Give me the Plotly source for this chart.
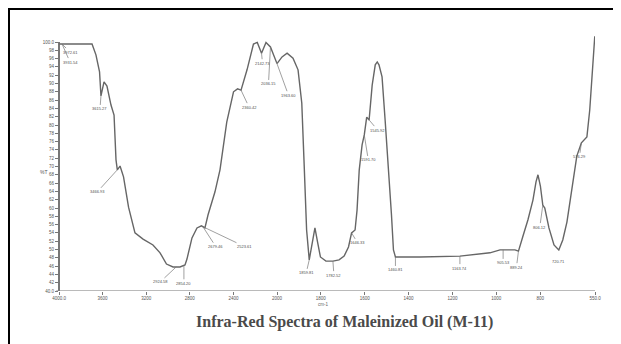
import numpy as np
import plotly.graph_objects as go

# ---------------- data ----------------
wavenumber = [3995, 3697, 3661, 3628, 3615, 3587, 3560, 3523, 3495, 3477,
              3465, 3440, 3408, 3362, 3303, 3229, 3138, 3073, 3014, 2954,
              2890, 2844, 2826, 2780, 2734, 2693, 2661, 2633, 2569, 2523,
              2461, 2399, 2362, 2330, 2275, 2216, 2181, 2142, 2101, 2060,
              2000, 1977, 1954, 1927, 1904, 1887, 1877, 1865, 1853, 1838,
              1827, 1815, 1802, 1777, 1745, 1717, 1694, 1674, 1660, 1644,
              1635, 1625, 1612, 1602, 1591, 1580, 1566, 1552, 1543, 1535,
              1521, 1507, 1492, 1478, 1469, 1460, 1348, 1166, 1029, 983,
              915, 899, 878, 856, 833, 819, 810, 799, 788, 779,
              760, 737, 715, 697, 678, 656, 633, 612, 587, 574,
              562, 551]
transmittance = [99.5, 99.5, 96.9, 92.8, 87.0, 90.4, 89.4, 84.8, 82.4, 71.6,
                 69.2, 70.1, 67.5, 60.2, 54.0, 52.5, 51.1, 49.2, 46.5, 45.8,
                 45.8, 46.3, 47.7, 52.8, 55.2, 55.7, 55.2, 58.3, 63.9, 69.2,
                 80.7, 88.0, 88.7, 88.4, 93.3, 99.5, 99.9, 97.3, 99.9, 98.8,
                 94.8, 96.4, 97.3, 96.1, 93.3, 85.3, 71.6, 54.7, 47.5, 51.8,
                 55.2, 51.8, 48.2, 47.2, 47.2, 47.5, 48.4, 50.6, 54.0, 54.7,
                 59.5, 69.2, 75.2, 77.6, 81.9, 81.2, 89.6, 94.5, 95.2, 94.5,
                 91.6, 81.2, 70.1, 58.3, 49.9, 48.2, 48.2, 48.4, 49.2, 49.9,
                 49.9, 49.6, 53.3, 57.1, 61.9, 66.3, 68.0, 65.3, 60.7, 60.0,
                 55.2, 51.1, 49.9, 52.3, 56.6, 64.3, 72.5, 75.7, 77.1, 83.6,
                 93.3, 101.4]

# peak labels (wavenumber of the marked point, label text)
peak_wn = [3972, 3972, 3615, 3465, 2925, 2854, 2680, 2680, 2330, 2142, 2060, 2005,
           1853, 1745, 1660, 1602, 1591, 1460, 1166, 969, 899, 788, 715, 612]
peak_text = ["3972.61", "3931.54", "3615.27", "3466.93", "2924.58", "2854.20",
             "2679.46", "2523.61", "2360.42", "2142.73", "2036.15", "1963.60",
             "1859.81", "1782.52", "1646.33", "1591.70", "1545.92", "1460.81",
             "1163.74", "905.53", "889.24", "806.12", "720.71", "576.29"]

x_upper_ticks = [4000, 3600, 3200, 2800, 2400, 2000]
x_upper_text = ["4000.0", "3600", "3200", "2800", "2400", "2000"]
x_lower_ticks = [1800, 1600, 1400, 1200, 1000, 800, 550]
x_lower_text = ["1800", "1600", "1400", "1200", "1000", "800", "550.0"]
y_ticks = list(range(40, 101, 2))
y_text = ["40.0"] + [str(v) for v in range(42, 100, 2)] + ["100.0"]

title_text = "Infra-Red Spectra of Maleinized Oil (M-11)"

# ---------------- figure ----------------
# the page body adds an 8 px margin, so the figure is placed at (8, 8)
OFF = 8
W, H = 621 - OFF, 344 - OFF
L = 59 - OFF
R = W - (595 - OFF)
T = 30 - OFF
B = H - (291 - OFF)
plot_w = W - L - R
plot_h = H - T - B
split = 218 / 536  # 4000-2000 half-scale / 2000-550 full-scale

wn = np.array(wavenumber, dtype=float)
tr = np.array(transmittance, dtype=float)
up = wn >= 2000
lo = wn <= 2000

line_style = dict(color="#666666", width=1.4)
fig = go.Figure()
fig.add_trace(go.Scatter(x=wn[up], y=tr[up], mode="lines", line=line_style,
                         xaxis="x", yaxis="y", showlegend=False, hoverinfo="skip"))
fig.add_trace(go.Scatter(x=wn[lo], y=tr[lo], mode="lines", line=line_style,
                         xaxis="x2", yaxis="y", showlegend=False, hoverinfo="skip"))

tickfont = dict(family="Liberation Sans", size=4.5, color="#555555")
common_x = dict(showgrid=False, zeroline=False, showline=False, ticks="outside",
                ticklen=3, tickcolor="#777777", tickwidth=1, tickfont=tickfont,
                anchor="y")
fig.update_layout(
    width=W, height=H,
    margin=dict(l=L, r=R, t=T, b=B),
    paper_bgcolor="white", plot_bgcolor="white",
    xaxis=dict(domain=[0, split], range=[4000, 2000], tickmode="array",
               tickvals=x_upper_ticks, ticktext=x_upper_text, **common_x),
    xaxis2=dict(domain=[split, 1], range=[2000, 550], tickmode="array",
                tickvals=x_lower_ticks, ticktext=x_lower_text, **common_x),
    yaxis=dict(range=[40, 40 + plot_h / 4.15], showgrid=False, zeroline=False,
               showline=False, ticks="outside", ticklen=3, tickcolor="#777777",
               tickmode="array", tickvals=y_ticks, ticktext=y_text,
               tickfont=tickfont, anchor="x"),
)

# axis lines
fig.add_shape(type="line", xref="paper", yref="y", x0=0, x1=0, y0=40, y1=100,
              line=dict(color="#555555", width=1.6))
fig.add_shape(type="line", xref="paper", yref="y", x0=-0.005, x1=1.0, y0=40, y1=40,
              line=dict(color="#777777", width=1.2))


# page-pixel -> paper coordinates
def px(xp):
    return (xp - OFF - L) / plot_w


def py(yp):
    return (H - B - (yp - OFF)) / plot_h


fig.add_shape(type="rect", xref="paper", yref="paper",
              x0=px(9), x1=px(640), y0=py(360), y1=py(9),
              line=dict(color="black", width=2), fillcolor="rgba(0,0,0,0)")

# peak labels with leader lines
offsets = [(8, 8), (8, 18), (-1, 13), (-20, 22), (-16, 15), (0, 18), (13, 20), (42, 20),
           (8, 17), (1, 10), (-2, 37), (12, 33), (-3, 13), (1, 14), (6, 10), (4, 25),
           (11, 13), (0, 13), (0, 12), (0, 13), (-2, 16), (-3, 22), (0, 12), (-2, 14)]
order = np.argsort(wn)
for w_, txt, (ax, ay) in zip(peak_wn, peak_text, offsets):
    yv = float(np.interp(w_, wn[order], tr[order]))
    fig.add_annotation(x=w_, y=yv, xref="x" if w_ >= 2000 else "x2", yref="y",
                       text=txt, showarrow=True, arrowhead=0, arrowwidth=0.7,
                       arrowcolor="#777777", ax=ax, ay=ay,
                       font=dict(family="Liberation Sans", size=4, color="#505050"))

# axis captions
fig.add_annotation(xref="paper", yref="paper", x=px(323), y=py(309), text="cm-1",
                   showarrow=False, font=dict(family="Liberation Sans", size=4.5, color="#666666"))
fig.add_annotation(xref="paper", yref="paper", x=px(38), y=py(172), text="%T",
                   showarrow=False, font=dict(family="Liberation Sans", size=5, color="#555555"))

# caption
fig.add_annotation(xref="paper", yref="paper", x=px(344), y=py(322), text="<b>" + title_text + "</b>",
                   showarrow=False, xanchor="center", yanchor="middle",
                   font=dict(family="Liberation Serif", size=16, color="#4a4a4a"))

fig.write_html("out.html")
